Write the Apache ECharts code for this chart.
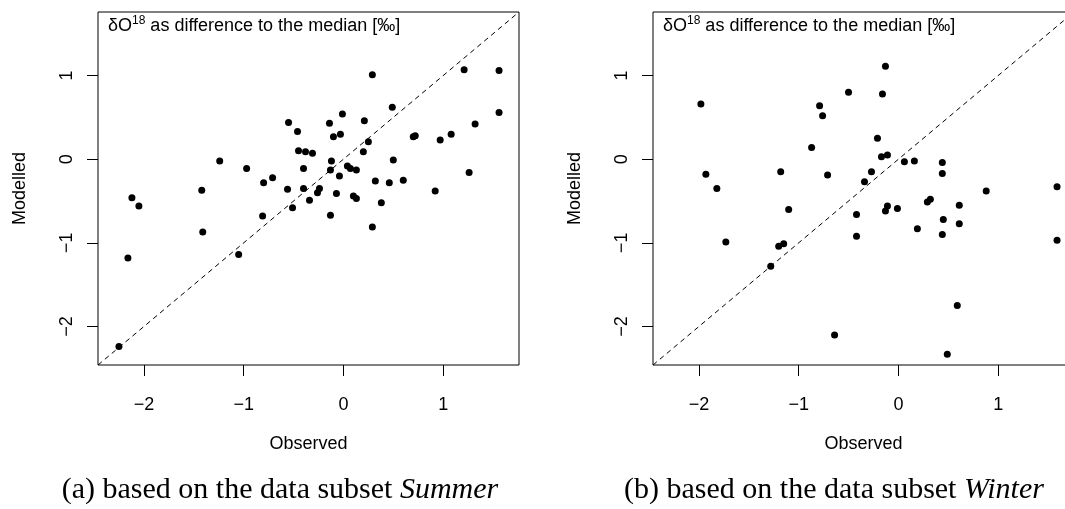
<!DOCTYPE html>
<html>
<head>
<meta charset="utf-8">
<script src="https://cdn.jsdelivr.net/npm/echarts@6/dist/echarts.min.js"></script>
<style>
  html, body { margin: 0; padding: 0; background: #fff; }
  #main { width: 1065px; height: 509px; }
</style>
</head>
<body>
<div id="main"></div>
<script>
// axis limits (same on both axes and both panels) and tick values
const limMin = -2.46, limMax = 1.76
const tickValues = [-2, -1, 0, 1]

// subset Summer: observed vs modelled
const summerObs = [-0.55, -0.46, -0.45, -0.38, -0.31, -1.24, -0.97, -0.40, -0.71, -0.80,
  -0.56, -0.40, -1.42, -2.12, -2.05, -1.41, -2.16, -1.05, -0.81, -0.51,
  -0.34, -2.25, 0.29, 1.21, 1.56, 1.56, 0.49, -0.01, -0.14, 0.21,
  -0.10, -0.03, 0.70, 0.72, 0.97, 1.08, 1.32, 0.25, 0.20, -0.12,
  0.50, -0.13, 0.04, 0.07, 0.13, -0.04, 1.26, 0.32, 0.46, 0.60,
  0.92, -0.24, -0.26, -0.07, 0.10, 0.13, 0.38, -0.13, 0.29]
const summerMod = [0.44, 0.33, 0.10, 0.09, 0.07, -0.02, -0.11, -0.11, -0.22, -0.28,
  -0.36, -0.35, -0.37, -0.46, -0.56, -0.87, -1.18, -1.14, -0.68, -0.58,
  -0.49, -2.24, 1.01, 1.07, 1.06, 0.56, 0.62, 0.54, 0.43, 0.46,
  0.27, 0.30, 0.27, 0.28, 0.23, 0.30, 0.42, 0.21, 0.09, -0.02,
  -0.01, -0.13, -0.08, -0.11, -0.13, -0.20, -0.16, -0.26, -0.28, -0.25,
  -0.38, -0.35, -0.40, -0.41, -0.44, -0.47, -0.52, -0.67, -0.81]

// subset Winter
const winterObs = [-1.98, -1.93, -1.82, -1.18, -0.79, -0.76, -0.87, -0.71, -0.50, -0.13,
  -0.16, -0.21, -0.17, -0.11, 0.06, 0.16, 0.44, 0.44, -0.27, -0.34,
  0.88, 1.59, -1.73, -1.10, -1.20, -1.15, -1.28, -0.42, -0.42, -0.64,
  -0.11, -0.13, -0.01, 0.29, 0.32, 0.19, 0.45, 0.44, 0.61, 0.61,
  1.59, 0.59, 0.49]
const winterMod = [0.66, -0.18, -0.35, -0.15, 0.64, 0.52, 0.14, -0.19, 0.80, 1.11,
  0.78, 0.25, 0.03, 0.05, -0.03, -0.02, -0.04, -0.17, -0.15, -0.27,
  -0.38, -0.33, -0.99, -0.60, -1.04, -1.01, -1.28, -0.66, -0.92, -2.10,
  -0.56, -0.62, -0.59, -0.51, -0.48, -0.83, -0.72, -0.90, -0.55, -0.77,
  -0.97, -1.75, -2.33]

const captions = ['(a) based on the data subset ', '(b) based on the data subset ']
const subsetNames = ['Summer', 'Winter']

const sans = 'Liberation Sans, Arial, Helvetica, sans-serif'
const minus = v => String(v).replace('-', '\u2212')

function pairs(xs, ys) {
  return xs.map((x, i) => [x, ys[i]])
}

function makeXAxis(idx) {
  return {
    gridIndex: idx,
    type: 'value',
    min: limMin,
    max: limMax,
    name: 'Observed',
    nameLocation: 'middle',
    nameGap: 70,
    nameTextStyle: { color: '#000', fontSize: 18, fontFamily: sans },
    axisLine: { show: false, onZero: false },
    axisTick: { show: true, length: 11, customValues: tickValues, lineStyle: { color: '#000', width: 1 } },
    axisLabel: { customValues: tickValues, formatter: minus, margin: 31, color: '#000', fontSize: 18, fontFamily: sans },
    splitLine: { show: false }
  }
}

function makeYAxis(idx) {
  return {
    gridIndex: idx,
    type: 'value',
    min: limMin,
    max: limMax,
    name: 'Modelled',
    nameLocation: 'middle',
    nameGap: 69,
    nameTextStyle: { color: '#000', fontSize: 18, fontFamily: sans },
    axisLine: { show: false, onZero: false },
    axisTick: { show: true, length: 11, customValues: tickValues, lineStyle: { color: '#000', width: 1 } },
    axisLabel: { customValues: tickValues, formatter: minus, rotate: 90, margin: 22, color: '#000', fontSize: 18, fontFamily: sans },
    splitLine: { show: false }
  }
}

function diagonal(idx) {
  return {
    type: 'line',
    xAxisIndex: idx,
    yAxisIndex: idx,
    data: [[limMin, limMin], [limMax, limMax]],
    symbol: 'none',
    silent: true,
    lineStyle: { color: '#000', width: 1, type: [5, 4] },
    z: 1
  }
}

function scatter(idx, xs, ys) {
  return {
    type: 'scatter',
    xAxisIndex: idx,
    yAxisIndex: idx,
    data: pairs(xs, ys),
    symbol: 'circle',
    symbolSize: 7,
    itemStyle: { color: '#000', opacity: 1 },
    z: 2
  }
}

const titleRich = {
  a: { fontSize: 18, fontFamily: sans, lineHeight: 22, fill: '#000' },
  s: { fontSize: 12, fontFamily: sans, lineHeight: 12, verticalAlign: 'top', fill: '#000' }
}
const capRich = {
  n: { fontSize: 30, fontFamily: 'Liberation Serif, Times New Roman, serif', fill: '#000' },
  i: { fontSize: 30, fontFamily: 'Liberation Serif, Times New Roman, serif', fontStyle: 'italic', fill: '#000' }
}

const gridLefts = [98, 653]
const capCenters = [280, 834]

const chart = echarts.init(document.getElementById('main'), null, { renderer: 'canvas' })
chart.setOption({
  backgroundColor: '#fff',
  animation: false,
  grid: gridLefts.map(l => ({
    left: l, top: 12, width: 421, height: 353,
    outerBoundsMode: 'none', containLabel: false,
    show: true, borderColor: '#000', borderWidth: 1, backgroundColor: 'transparent'
  })),
  xAxis: [makeXAxis(0), makeXAxis(1)],
  yAxis: [makeYAxis(0), makeYAxis(1)],
  series: [
    diagonal(0), scatter(0, summerObs, summerMod),
    diagonal(1), scatter(1, winterObs, winterMod)
  ],
  graphic: [
    ...gridLefts.map(l => ({
      type: 'text', left: l + 10, top: 15, z: 10,
      style: { text: '{a|\u03b4O}{s|18}{a| as difference to the median [\u2030]}', rich: titleRich }
    })),
    ...capCenters.map((c, i) => ({
      type: 'text', x: c, y: 490, z: 10,
      style: {
        text: '{n|' + captions[i] + '}{i|' + subsetNames[i] + '}',
        rich: capRich, align: 'center', verticalAlign: 'middle'
      }
    }))
  ]
})
</script>
</body>
</html>
